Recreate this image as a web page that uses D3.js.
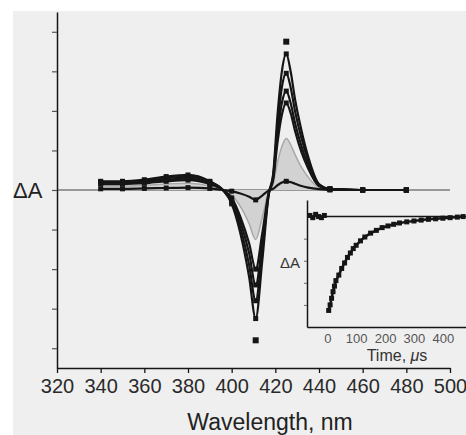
<!DOCTYPE html>
<html>
<head>
<meta charset="utf-8">
<script src="https://cdn.jsdelivr.net/npm/d3@7"></script>
<style>
  body { margin: 0; background: #fff; }
  text { font-family: "Liberation Sans", Arial, sans-serif; }
</style>
</head>
<body>
<div id="chart"></div>
<script>
// Wavelengths (nm) that the spectra were read at
const wavelengths = [340, 350, 360, 370, 380, 390, 396, 400, 404, 408, 411, 414, 417, 419, 421, 423, 425, 427, 429, 432, 435, 440, 445, 450, 460, 470, 480];

// Difference spectra, arbitrary ΔA units, from the earliest to the latest delay
const spec1 = [0.22, 0.22, 0.26, 0.34, 0.38, 0.22, 0.0, -0.35, -1.1, -2.2, -3.25, -1.8, -0.1, 0.4, 1.9, 3.0, 3.44, 3.0, 2.3, 1.5, 0.85, 0.15, 0.03, 0.02, 0, 0, 0];
const spec2 = [0.2, 0.2, 0.22, 0.3, 0.33, 0.2, 0.0, -0.3, -0.95, -1.9, -2.8, -1.55, -0.1, 0.35, 1.6, 2.6, 2.95, 2.6, 2.0, 1.3, 0.75, 0.13, 0.03, 0.02, 0, 0, 0];
const spec3 = [0.18, 0.18, 0.2, 0.26, 0.29, 0.17, 0.0, -0.25, -0.8, -1.6, -2.4, -1.35, -0.08, 0.3, 1.4, 2.2, 2.5, 2.2, 1.7, 1.1, 0.63, 0.11, 0.02, 0.01, 0, 0, 0];
const spec4 = [0.15, 0.15, 0.17, 0.22, 0.25, 0.15, 0.0, -0.2, -0.68, -1.35, -2.0, -1.1, -0.06, 0.25, 1.2, 1.9, 2.2, 1.95, 1.5, 0.95, 0.55, 0.1, 0.02, 0.01, 0, 0, 0];
const specGrey = [0.1, 0.1, 0.12, 0.15, 0.17, 0.1, 0.0, -0.13, -0.42, -0.85, -1.25, -0.7, -0.04, 0.15, 0.7, 1.1, 1.3, 1.15, 0.9, 0.57, 0.33, 0.06, 0.01, 0, 0, 0, 0];
const spec6 = [0.03, 0.03, 0.04, 0.05, 0.06, 0.04, 0.0, -0.03, -0.09, -0.17, -0.25, -0.14, -0.01, 0.03, 0.12, 0.19, 0.22, 0.2, 0.16, 0.1, 0.06, 0.02, 0, 0, 0, 0, 0];

// Wavelengths that carry a square marker
const markerWl = [340, 350, 360, 370, 380, 390, 400, 411, 425, 445, 460, 480];

// Isolated points (initial amplitude at bleach and peak)
const extraWl = [425, 411];
const extraVal = [3.75, -3.8];

// Axis ticks
const xTicks = [320, 340, 360, 380, 400, 420, 440, 460, 480, 500];
const yTicks = [-4, -3, -2, -1, 0, 1, 2, 3, 4];

// Inset: kinetic trace, before the flash and after it
const preTime = [-60, -50, -40, -30, -20, -10];
const preVal = [0.01, -0.01, 0.02, 0, -0.01, 0.01];
const insetTime = [5, 10, 15, 20, 25, 30, 40, 50, 60, 70, 80, 90, 100, 115, 130, 150, 170, 190, 210, 230, 250, 275, 300, 325, 350, 375, 400, 425, 450, 470];
const insetVal = [-0.85, -0.8, -0.74, -0.68, -0.63, -0.58, -0.53, -0.47, -0.42, -0.37, -0.33, -0.29, -0.26, -0.22, -0.185, -0.15, -0.125, -0.1, -0.085, -0.07, -0.058, -0.048, -0.04, -0.032, -0.025, -0.02, -0.015, -0.01, -0.005, 0];
const insetTicks = [0, 100, 200, 300, 400];
const insetYTicks = [-0.8, -0.6, -0.4, -0.2];

const width = 466, height = 435;
const ink = "#151515";

const svg = d3.select("#chart").append("svg")
  .attr("width", width)
  .attr("height", height);

// grey scanned-paper background
svg.append("rect")
  .attr("x", 13).attr("y", 11)
  .attr("width", width - 13).attr("height", height - 11)
  .attr("fill", "#efefef");

const x = d3.scaleLinear().domain([320, 500]).range([57, 450]);
const y = d3.scaleLinear().domain([-4.5, 4.5]).range([368, 12]);

// zero line
svg.append("line")
  .attr("x1", x(320)).attr("x2", x(500))
  .attr("y1", y(0)).attr("y2", y(0))
  .attr("stroke", "#444").attr("stroke-width", 1.2);

const line = d3.line()
  .x((d, i) => x(wavelengths[i]))
  .y(d => y(d))
  .curve(d3.curveMonotoneX);

const area = d3.area()
  .x((d, i) => x(wavelengths[i]))
  .y0(y(0))
  .y1(d => y(d))
  .curve(d3.curveMonotoneX);

// grey spectrum drawn as a shaded area
svg.append("path")
  .attr("d", area(specGrey))
  .attr("fill", "#d2d2d2");
svg.append("path")
  .attr("d", line(specGrey))
  .attr("fill", "none")
  .attr("stroke", "#a8a8a8")
  .attr("stroke-width", 1.5);

const blackSpectra = [spec1, spec2, spec3, spec4, spec6];

blackSpectra.forEach(s => {
  svg.append("path")
    .attr("d", line(s))
    .attr("fill", "none")
    .attr("stroke", ink)
    .attr("stroke-width", 2.2);

  svg.selectAll(null)
    .data(markerWl)
    .enter().append("rect")
    .attr("x", d => x(d) - 2.5)
    .attr("y", d => y(s[wavelengths.indexOf(d)]) - 2.5)
    .attr("width", 5)
    .attr("height", 5)
    .attr("fill", ink);
});

svg.selectAll(null)
  .data(extraWl)
  .enter().append("rect")
  .attr("x", d => x(d) - 3)
  .attr("y", (d, i) => y(extraVal[i]) - 3)
  .attr("width", 6)
  .attr("height", 6)
  .attr("fill", ink);

// axes
const xAxis = svg.append("g")
  .attr("transform", `translate(0,${y(-4.5)})`)
  .call(d3.axisBottom(x).tickValues(xTicks).tickSize(5).tickPadding(6).tickSizeOuter(0));
xAxis.select(".domain").attr("stroke", ink).attr("stroke-width", 1.5);
xAxis.selectAll(".tick line").attr("stroke", ink).attr("stroke-width", 1.3);
xAxis.selectAll(".tick text")
  .attr("font-size", 20)
  .attr("fill", "#2a2a2a")
  .attr("font-family", "'Liberation Sans', Arial, sans-serif");

const yAxis = svg.append("g")
  .attr("transform", `translate(${x(320)},0)`)
  .call(d3.axisLeft(y).tickValues(yTicks).tickSize(5).tickFormat("").tickSizeOuter(0));
yAxis.select(".domain").attr("stroke", ink).attr("stroke-width", 1.5);
yAxis.selectAll(".tick line").attr("stroke", "#555").attr("stroke-width", 1.2);

svg.append("text")
  .attr("x", 270).attr("y", 422)
  .attr("dy", "0.35em")
  .attr("text-anchor", "middle")
  .attr("font-size", 23)
  .attr("fill", "#222")
  .text("Wavelength, nm");

svg.append("text")
  .attr("x", 13).attr("y", y(0))
  .attr("dy", "0.36em")
  .attr("font-size", 22)
  .attr("fill", "#222")
  .text("ΔA");

// ---- inset ----
const ix = d3.scaleLinear().domain([-70, 480]).range([307, 466]);
const iy = d3.scaleLinear().domain([-1, 0.15]).range([327, 200]);

const inset = svg.append("g");

inset.append("line")
  .attr("x1", ix(-70)).attr("x2", ix(480))
  .attr("y1", iy(0)).attr("y2", iy(0))
  .attr("stroke", ink).attr("stroke-width", 1.4);

const iLine = d3.line()
  .x(d => ix(d[0]))
  .y(d => iy(d[1]));

[[preTime, preVal], [insetTime, insetVal]].forEach(([ts, vs]) => {
  inset.append("path")
    .attr("d", iLine(ts.map((t, i) => [t, vs[i]])))
    .attr("fill", "none")
    .attr("stroke", ink)
    .attr("stroke-width", 2.5);

  inset.selectAll(null)
    .data(vs)
    .enter().append("rect")
    .attr("x", (d, i) => ix(ts[i]) - 2.5)
    .attr("y", d => iy(d) - 2.5)
    .attr("width", 5)
    .attr("height", 5)
    .attr("fill", ink);
});

const ixAxis = inset.append("g")
  .attr("transform", `translate(0,${iy(-1)})`)
  .call(d3.axisBottom(ix).tickValues(insetTicks).tickSize(0).tickPadding(7).tickSizeOuter(0));
ixAxis.select(".domain").attr("stroke", ink).attr("stroke-width", 1.5);
ixAxis.selectAll(".tick text")
  .attr("font-size", 13)
  .attr("fill", "#555")
  .attr("font-family", "'Liberation Sans', Arial, sans-serif");

const iyAxis = inset.append("g")
  .attr("transform", `translate(${ix(-70)},0)`)
  .call(d3.axisLeft(iy).tickValues(insetYTicks).tickSize(3).tickFormat("").tickSizeOuter(0));
iyAxis.select(".domain").attr("stroke", ink).attr("stroke-width", 1.5);
iyAxis.selectAll(".tick line").attr("stroke", "#666");

inset.append("text")
  .attr("x", 300).attr("y", 263)
  .attr("dy", "0.36em")
  .attr("text-anchor", "end")
  .attr("font-size", 15)
  .attr("fill", "#333")
  .text("ΔA");

const timeLabel = inset.append("text")
  .attr("x", 397).attr("y", 355)
  .attr("dy", "0.35em")
  .attr("text-anchor", "middle")
  .attr("font-size", 16)
  .attr("fill", "#333");
timeLabel.append("tspan").text("Time, ");
timeLabel.append("tspan").attr("font-style", "italic").text("μ");
timeLabel.append("tspan").text("s");
</script>
</body>
</html>
